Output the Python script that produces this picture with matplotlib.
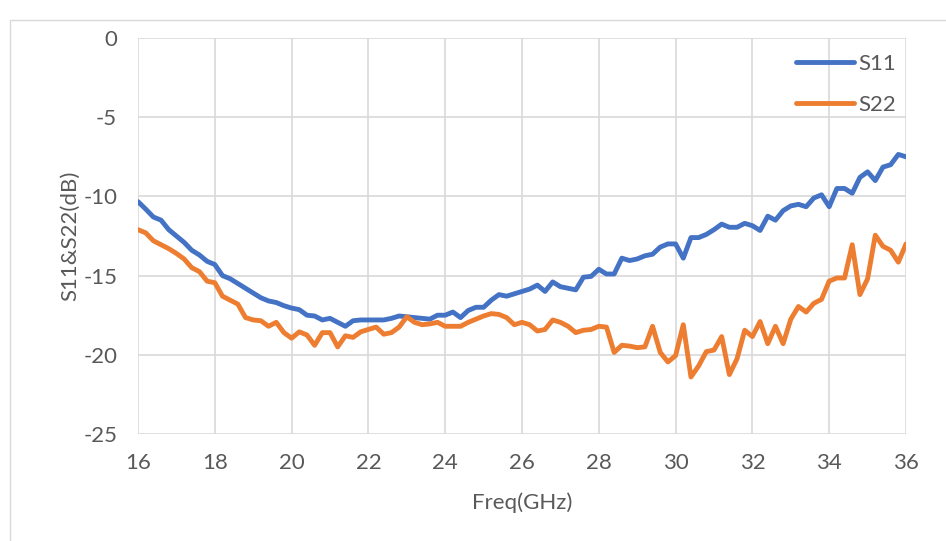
import matplotlib.pyplot as plt
import numpy as np
from matplotlib.patches import Rectangle

# frequency points (GHz), 0.2 GHz step
freq = np.round(np.arange(16.0, 36.01, 0.2), 1)

s11 = [-10.33, -10.8, -11.3, -11.5, -12.1, -12.5, -12.9, -13.4, -13.7, -14.1,
       -14.3, -15.0, -15.2, -15.5, -15.8, -16.1, -16.4, -16.6, -16.7, -16.9,
       -17.05, -17.15, -17.5, -17.55, -17.8, -17.7, -17.95, -18.2, -17.85, -17.8,
       -17.8, -17.8, -17.8, -17.7, -17.55, -17.6, -17.65, -17.7, -17.75, -17.5,
       -17.5, -17.3, -17.65, -17.2, -17.0, -17.0, -16.55, -16.2, -16.3, -16.15,
       -16.0, -15.85, -15.6, -16.0, -15.4, -15.7, -15.8, -15.9, -15.1, -15.05,
       -14.6, -14.9, -14.9, -13.9, -14.05, -13.95, -13.75, -13.65, -13.2, -13.0,
       -13.0, -13.9, -12.6, -12.6, -12.4, -12.1, -11.75, -11.95, -11.95, -11.7,
       -11.85, -12.15, -11.25, -11.5, -10.9, -10.6, -10.5, -10.65, -10.1, -9.9,
       -10.65, -9.5, -9.5, -9.8, -8.8, -8.45, -9.0, -8.15, -8.0, -7.35,
       -7.5]

s22 = [-12.1, -12.3, -12.8, -13.05, -13.3, -13.6, -13.95, -14.5, -14.75, -15.35,
       -15.45, -16.3, -16.55, -16.8, -17.65, -17.8, -17.85, -18.2, -17.95, -18.6,
       -18.95, -18.55, -18.75, -19.4, -18.6, -18.6, -19.5, -18.8, -18.9, -18.55,
       -18.4, -18.25, -18.7, -18.6, -18.25, -17.6, -17.95, -18.1, -18.05, -17.95,
       -18.2, -18.2, -18.2, -17.95, -17.75, -17.55, -17.4, -17.45, -17.65, -18.1,
       -17.95, -18.1, -18.5, -18.4, -17.8, -17.95, -18.2, -18.6, -18.45, -18.4,
       -18.2, -18.25, -19.85, -19.4, -19.45, -19.55, -19.5, -18.2, -19.85, -20.45,
       -20.05, -18.1, -21.4, -20.7, -19.8, -19.7, -18.85, -21.25, -20.25, -18.45,
       -18.85, -17.9, -19.3, -18.2, -19.3, -17.75, -16.95, -17.3, -16.75, -16.5,
       -15.35, -15.15, -15.15, -13.05, -16.2, -15.2, -12.45, -13.15, -13.4, -14.15,
       -13.0]

xticks = [16, 18, 20, 22, 24, 26, 28, 30, 32, 34, 36]
yticks = [0, -5, -10, -15, -20, -25]

plt.rcParams['font.family'] = ['Lato', 'DejaVu Sans']
txt = '#595959'
fs = 16

fig = plt.figure(figsize=(9.46, 5.41), dpi=100)
ax = fig.add_axes([138/946, 1-434/541, 768/946, 396/541])

# light border around the chart area
fig.patches.append(Rectangle((10/946, -0.01), 1.0, 1-20/541+0.01,
                             transform=fig.transFigure, fill=False,
                             edgecolor='#d9d9d9', linewidth=1))

ax.plot(freq, s11, color='#4472C4', linewidth=3.5, label='S11', solid_capstyle='round')
ax.plot(freq, s22, color='#ED7D31', linewidth=3.5, label='S22', solid_capstyle='round')

ax.set_xlim(16, 36)
ax.set_ylim(-25, 0)
ax.set_xticks(xticks)
ax.set_yticks(yticks)
ax.set_yticklabels([str(v) for v in yticks])
ax.grid(True, color='#d9d9d9', linewidth=1.2)
ax.set_axisbelow(True)
for s in ['top', 'bottom', 'left', 'right']:
    ax.spines[s].set_visible(False)
ax.tick_params(length=0, labelsize=fs, colors=txt)
ax.tick_params(axis='x', pad=14)
ax.tick_params(axis='y', pad=15)

ax.set_xlabel('Freq(GHz)', fontsize=fs, color=txt, labelpad=14)
ax.set_ylabel('S11&S22(dB)', fontsize=fs, color=txt, labelpad=2)

leg = ax.legend(loc='upper right', bbox_to_anchor=((896-138)/768, (434-54)/396),
                frameon=False, fontsize=fs, handlelength=2.6, handletextpad=0.2,
                labelspacing=0.95, borderaxespad=0, borderpad=0)
for t in leg.get_texts():
    t.set_color(txt)

fig.savefig('out.png', dpi=100)
